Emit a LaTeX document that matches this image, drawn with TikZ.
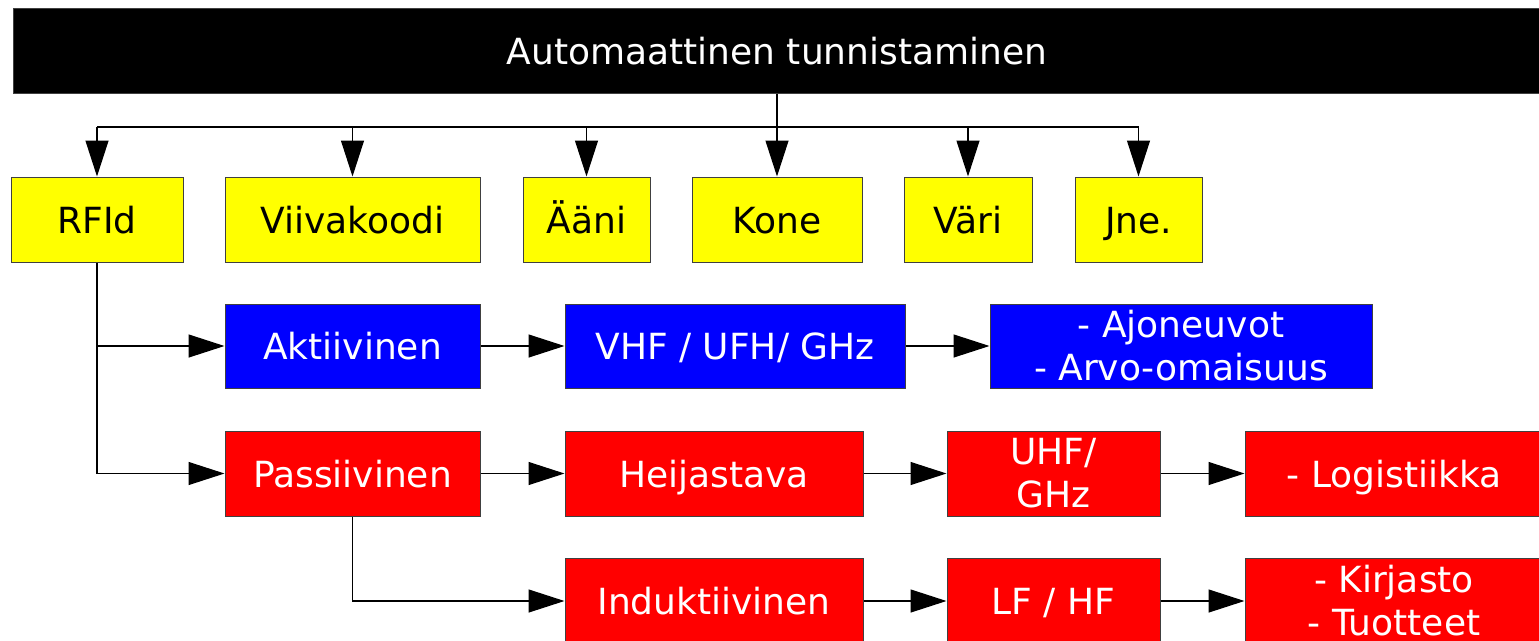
\documentclass[tikz,border=0pt]{standalone}
\usepackage{fontspec}
\setmainfont{DejaVu Sans}
\usetikzlibrary{arrows.meta}
\definecolor{yel}{RGB}{255,255,0}
\definecolor{blu}{RGB}{0,0,255}
\definecolor{rd}{RGB}{255,0,0}
\tikzset{
  box/.style={rectangle, draw=black!75, line width=1pt, inner sep=0pt,
    font=\fontsize{36pt}{43pt}\selectfont, align=center},
  one/.style={text height=31pt, text depth=4pt},
  ybox/.style={box, one, fill=yel, text=black, minimum height=85pt},
  bbox/.style={box, fill=blu, text=white, minimum height=84pt},
  rbox/.style={box, fill=rd, text=white, minimum height=85pt},
  conn/.style={draw=black, line width=1.2pt},
  arr/.style={conn, -{Triangle[length=36pt,width=23pt]}}
}
\begin{document}
\begin{tikzpicture}[x=1pt,y=-1pt]
\useasboundingbox (0,0) rectangle (1539,640);
\clip (0,0) rectangle (1539,640);
\fill[white] (0,0) rectangle (1539,640);
\node[box, one, fill=black, text=white, minimum width=1528pt, minimum height=85pt] (top) at (777,50.5) {Automaattinen tunnistaminen};
% yellow row
\node[ybox, minimum width=172pt] (rfid) at (97,219.5) {RFId};
\node[ybox, minimum width=255pt] (viiva) at (352.5,219.5) {Viivakoodi};
\node[ybox, minimum width=127pt] (aani) at (586.5,219.5) {Ääni};
\node[ybox, minimum width=170pt] (kone) at (777,219.5) {Kone};
\node[ybox, minimum width=128pt] (vari) at (968,219.5) {Väri};
\node[ybox, minimum width=127pt] (jne) at (1138.5,219.5) {Jne.};
% blue row
\node[bbox, one, minimum width=255pt] (akt) at (352.5,346) {Aktiivinen};
\node[bbox, one, minimum width=340pt] (vhf) at (735,346) {VHF / UFH/ GHz};
\node[bbox, minimum width=382pt] (ajo) at (1181,346) {- Ajoneuvot\\- Arvo-omaisuus};
% red row 1
\node[rbox, one, minimum width=255pt] (pass) at (352.5,473.5) {Passiivinen};
\node[rbox, one, minimum width=298pt] (heij) at (714,473.5) {Heijastava};
\node[rbox, minimum width=213pt] (uhf) at (1053.5,473.5) {UHF/\\GHz};
\node[rbox, one, minimum width=298pt] (logi) at (1394,473.5) {- Logistiikka};
% red row 2
\node[rbox, one, minimum width=298pt] (ind) at (714,601) {Induktiivinen};
\node[rbox, one, minimum width=213pt] (lfhf) at (1053.5,601) {LF / HF};
\node[rbox, minimum width=298pt] (kirj) at (1394,601) {- Kirjasto\\- Tuotteet};
% top fan
\coordinate (bus) at (777,127);
\draw[conn] (bus -| rfid.north) -- (bus -| jne.north);
\draw[arr] (top.south -| kone.north) -- (kone.north);
\foreach \n in {rfid,viiva,aani,vari,jne}
  \draw[arr] (bus -| \n.north) -- (\n.north);
% RFId branch
\draw[conn] (rfid.south) -- (rfid.south |- pass.west);
\draw[arr] (rfid.south |- akt.west) -- (akt.west);
\draw[arr] (rfid.south |- pass.west) -- (pass.west);
% Passiivinen branch
\draw[arr] (pass.south) |- (ind.west);
% chains
\draw[arr] (akt) -- (vhf);
\draw[arr] (vhf) -- (ajo);
\draw[arr] (pass) -- (heij);
\draw[arr] (heij) -- (uhf);
\draw[arr] (uhf) -- (logi);
\draw[arr] (ind) -- (lfhf);
\draw[arr] (lfhf) -- (kirj);
\end{tikzpicture}
\end{document}
